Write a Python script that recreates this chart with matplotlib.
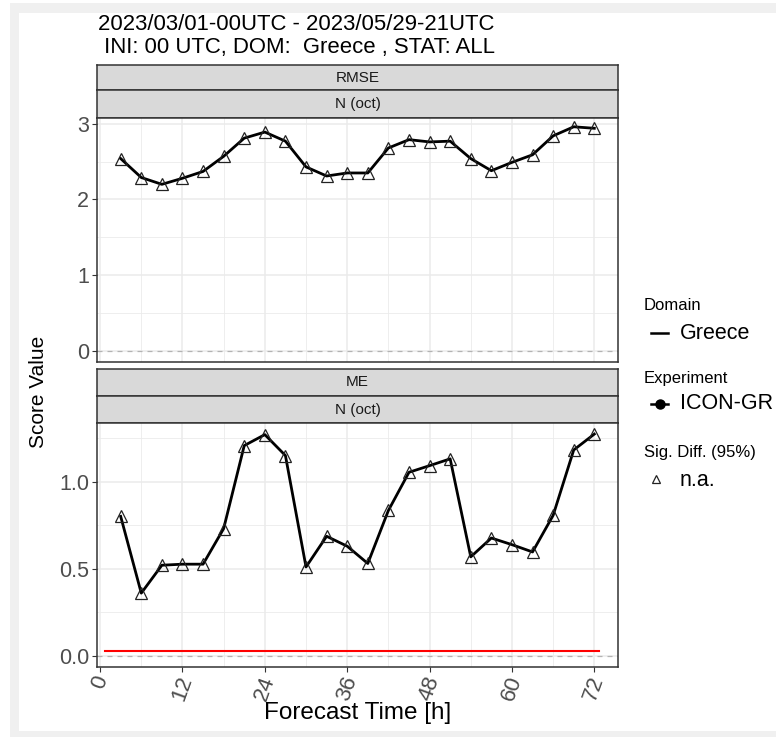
import numpy as np
import matplotlib
matplotlib.use("Agg")
import matplotlib.pyplot as plt
from matplotlib.lines import Line2D
from matplotlib.patches import Rectangle

plt.rcParams['font.family'] = ['Liberation Sans', 'DejaVu Sans']

# data
lead_time = [3, 6, 9, 12, 15, 18, 21, 24, 27, 30, 33, 36,
             39, 42, 45, 48, 51, 54, 57, 60, 63, 66, 69, 72]
rmse = [2.54, 2.29, 2.20, 2.28, 2.37, 2.57, 2.81, 2.89, 2.77, 2.43, 2.31, 2.35,
        2.35, 2.68, 2.79, 2.76, 2.77, 2.54, 2.38, 2.49, 2.59, 2.84, 2.96, 2.94]
me = [0.80, 0.36, 0.52, 0.526, 0.526, 0.73, 1.206, 1.269, 1.149, 0.51, 0.686, 0.629,
      0.53, 0.834, 1.053, 1.091, 1.13, 0.568, 0.676, 0.638, 0.596, 0.806, 1.181, 1.272]
ref_x = [0.75, 72.75]
ref_y = [0.03, 0.03]

x_ticks = [0, 12, 24, 36, 48, 60, 72]
title_lines = ["2023/03/01-00UTC - 2023/05/29-21UTC",
               " INI: 00 UTC, DOM:  Greece , STAT: ALL"]

W, H = 776, 737
fig = plt.figure(figsize=(W / 100, H / 100), dpi=100)

def fx(px):
    return px / W

def fy(py):
    return 1 - py / H

# light grey frame around the plot
fig.patches.append(Rectangle((fx(10), 0), fx(766), 1 - 3 / H, transform=fig.transFigure,
                             facecolor='#f0f0f0', edgecolor='none', zorder=-10))
fig.patches.append(Rectangle((fx(19), fy(731)), fx(757), (731 - 13) / H, transform=fig.transFigure,
                             facecolor='white', edgecolor='none', zorder=-9))

border = '#333333'
grid_c = '#ebebeb'


def make_strip(top, bottom, label):
    sax = fig.add_axes([fx(97), fy(bottom), fx(521), (bottom - top) / H])
    sax.set_facecolor('#d9d9d9')
    sax.set_xticks([])
    sax.set_yticks([])
    for s in sax.spines.values():
        s.set_color(border)
        s.set_linewidth(1.1)
    sax.text(0.5, 0.5, label, ha='center', va='center', fontsize=11,
             color='#1a1a1a', transform=sax.transAxes)


def make_panel(top, bottom, y, ylim, yticks, yticklabels, yminor, show_x):
    ax = fig.add_axes([fx(97), fy(bottom), fx(521), (bottom - top) / H])
    ax.set_xlim(-0.45, 75.45)
    ax.set_ylim(*ylim)
    ax.set_xticks(x_ticks)
    ax.set_xticks([6, 18, 30, 42, 54, 66], minor=True)
    ax.set_yticks(yticks)
    ax.set_yticks(yminor, minor=True)
    ax.set_yticklabels(yticklabels)
    ax.grid(True, which='major', color=grid_c, lw=1.1)
    ax.grid(True, which='minor', color=grid_c, lw=0.6)
    ax.set_axisbelow(True)
    ax.tick_params(which='minor', length=0)
    ax.tick_params(axis='y', length=3.5, width=0.8, color=border, pad=2,
                   labelsize=15.5, labelcolor='#4d4d4d')
    if show_x:
        ax.tick_params(axis='x', length=3.5, width=0.8, color=border, pad=1,
                       labelsize=16, labelcolor='#4d4d4d')
        ax.set_xticklabels([str(t) for t in x_ticks], rotation=70)
    else:
        ax.tick_params(axis='x', length=0, labelbottom=False)
    for s in ax.spines.values():
        s.set_color(border)
        s.set_linewidth(1.1)
    ax.axhline(0, color='#b3b3b3', lw=0.9, ls=(0, (4, 4)), zorder=1)
    ax.plot(lead_time, y, color='black', lw=2.0, zorder=3)
    ax.plot(lead_time, y, ls='none', marker='^', ms=8.5, mfc='none',
            mec='#222222', mew=0.9, zorder=4)
    return ax


make_strip(65, 90, 'RMSE')
make_strip(90, 118, 'N (oct)')
ax1 = make_panel(118, 362, rmse, (-0.1465, 3.076), [0, 1, 2, 3], ['0', '1', '2', '3'],
                 [0.5, 1.5, 2.5], False)

make_strip(369, 396, 'ME')
make_strip(396, 423, 'N (oct)')
ax2 = make_panel(423, 667, me, (-0.0636, 1.3356), [0.0, 0.5, 1.0], ['0.0', '0.5', '1.0'],
                 [0.25, 0.75, 1.25], True)
ax2.plot(ref_x, ref_y, color='red', lw=1.5, zorder=2)

# titles and axis labels
fig.text(fx(98), fy(25), title_lines[0], ha='left', va='center', fontsize=15.9)
fig.text(fx(98), fy(47), title_lines[1], ha='left', va='center', fontsize=15.9)
fig.text(fx(358), fy(713), 'Forecast Time [h]', ha='center', va='center', fontsize=17.5)
fig.text(fx(38), fy(392), 'Score Value', ha='center', va='center', rotation=90, fontsize=15)

# legend, drawn by hand
fig.text(fx(644), fy(306), 'Domain', ha='left', va='center', fontsize=12)
fig.add_artist(Line2D([fx(651), fx(668)], [fy(333), fy(333)], color='black', lw=1.8,
                      transform=fig.transFigure))
fig.text(fx(680), fy(333), 'Greece', ha='left', va='center', fontsize=15.5)

fig.text(fx(644), fy(379), 'Experiment', ha='left', va='center', fontsize=12)
fig.add_artist(Line2D([fx(651), fx(668)], [fy(404), fy(404)], color='black', lw=1.8,
                      transform=fig.transFigure))
fig.add_artist(Line2D([fx(659.5)], [fy(404)], color='black', marker='o', ms=6.5,
                      transform=fig.transFigure))
fig.text(fx(680), fy(404), 'ICON-GR', ha='left', va='center', fontsize=15.5)

fig.text(fx(644), fy(453), 'Sig. Diff. (95%)', ha='left', va='center', fontsize=12)
fig.add_artist(Line2D([fx(656)], [fy(479)], ls='none', marker='^', ms=6, mfc='none',
                      mec='#222222', mew=0.9, transform=fig.transFigure))
fig.text(fx(680), fy(480), 'n.a.', ha='left', va='center', fontsize=15.5)

fig.savefig('out.png', dpi=100, facecolor='white')
